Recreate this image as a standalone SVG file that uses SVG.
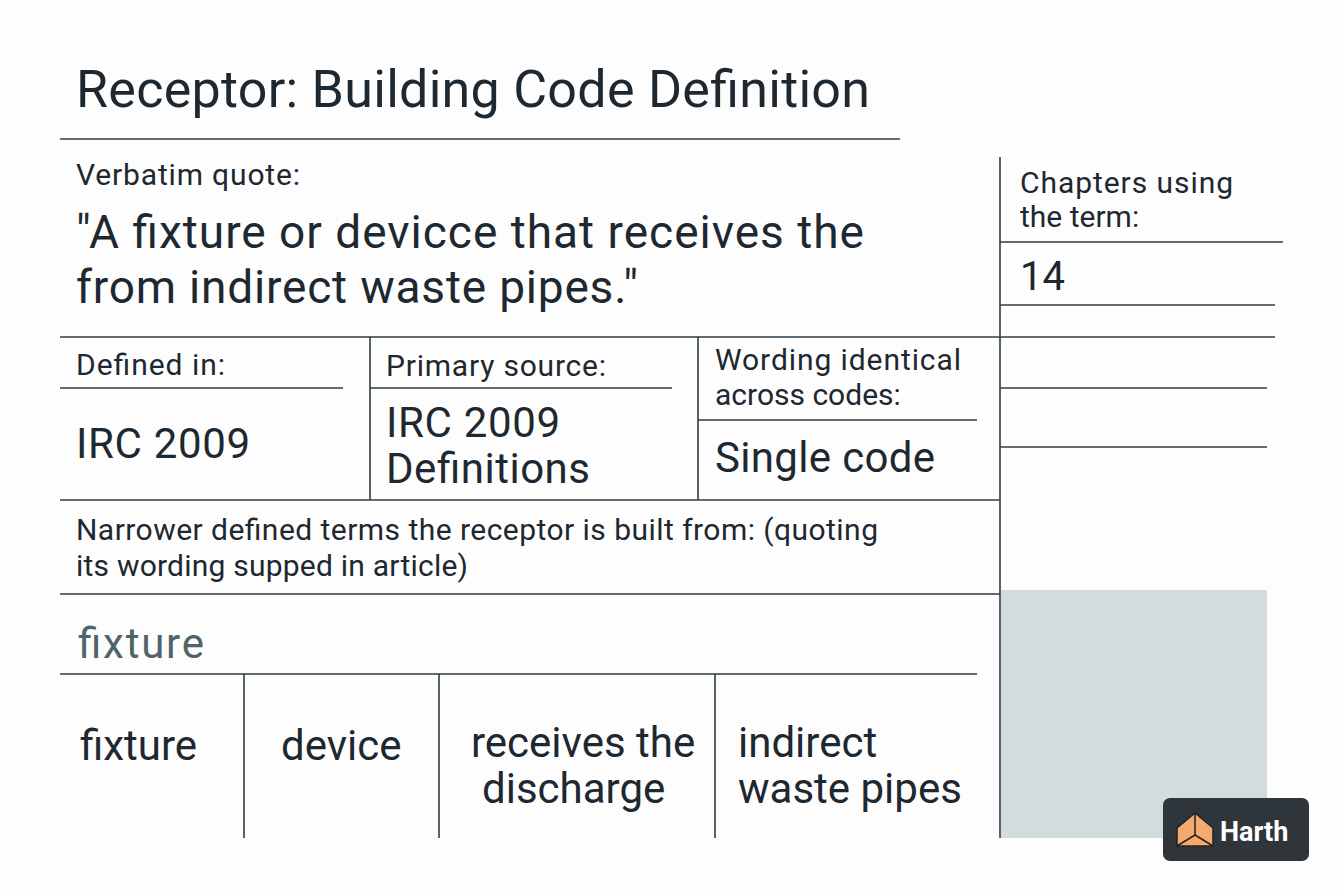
<svg xmlns="http://www.w3.org/2000/svg" width="1344" height="896" viewBox="0 0 1344 896">
<style>
text{font-family:Roboto,"Liberation Sans",sans-serif;fill:#1d2830}
.l{stroke:#2f3d45;stroke-width:1.6;fill:none}
.s{font-size:30px}
.m{font-size:42px}
</style>
<rect width="1344" height="896" fill="#fdfdfd"/>
<g id="title"><text x="76" y="107" font-size="52" textLength="794">Receptor: Building Code Definition</text></g>
<g id="connectors">
<path class="l" d="M60 139H900 M1000 157V838 M60 337H1275 M1000 242H1283 M1000 305H1275 M1000 388H1267 M1000 447H1267 M370 337V500 M698 337V500 M60 388H343 M370 388H672 M698 420H977 M60 500H1000 M60 594H1000 M60 674H977 M244 674V838 M439 674V838 M715 674V838"/>
</g>
<g id="quote"><text x="76" y="185" class="s" textLength="224">Verbatim quote:</text>
<text x="76" y="248" font-size="46" textLength="788">"A fixture or devicce that receives the</text>
<text x="76" y="303" font-size="46" textLength="562">from indirect waste pipes."</text></g>
<g id="chapters"><text x="1020" y="193" class="s" textLength="213">Chapters using</text><text x="1020" y="227" class="s">the term:</text><text x="1020" y="290" font-size="40">14</text></g>
<g id="defined"><text x="76" y="375" class="s" textLength="149">Defined in:</text><text x="76" y="458" class="m" textLength="174">IRC 2009</text></g>
<g id="source"><text x="386" y="376" class="s" textLength="220">Primary source:</text><text x="386" y="437" class="m" textLength="174">IRC 2009</text><text x="386" y="483" class="m" textLength="204">Definitions</text></g>
<g id="wording"><text x="715" y="370" class="s" textLength="246">Wording identical</text><text x="715" y="405" class="s">across codes:</text><text x="715" y="472" class="m" textLength="220">Single code</text></g>
<g id="narrower"><text x="76" y="540" class="s" textLength="802">Narrower defined terms the receptor is built from: (quoting</text><text x="76" y="576" class="s" textLength="392">its wording supped in article)</text>
<text x="78" y="658" class="m" style="fill:#4f6468" textLength="126">fixture</text></g>
<g id="t1"><text x="80" y="760" class="m">fixture</text></g>
<g id="t2"><text x="281" y="760" class="m">device</text></g>
<g id="t3"><text x="471" y="757" class="m">receives the</text><text x="482" y="803" class="m">discharge</text></g>
<g id="t4"><text x="738" y="757" class="m">indirect</text><text x="738" y="803" class="m">waste pipes</text></g>
<rect x="1001" y="590" width="266" height="248" fill="#d3dcdc"/>
<g id="logo"><rect x="1163" y="798" width="146" height="63" rx="7" fill="#2e363b"/>
<path d="M1177 828 L1195 813 L1213 828 L1213 846 L1177 846 Z" fill="#f4a96f" stroke="#222" stroke-width="1.5"/>
<path d="M1195 813 V835 L1177 846 M1195 835 L1213 846" stroke="#222" stroke-width="1.5" fill="none"/>
<text x="1220" y="841" font-size="27" font-weight="bold" style="fill:#fff">Harth</text></g>
</svg>
